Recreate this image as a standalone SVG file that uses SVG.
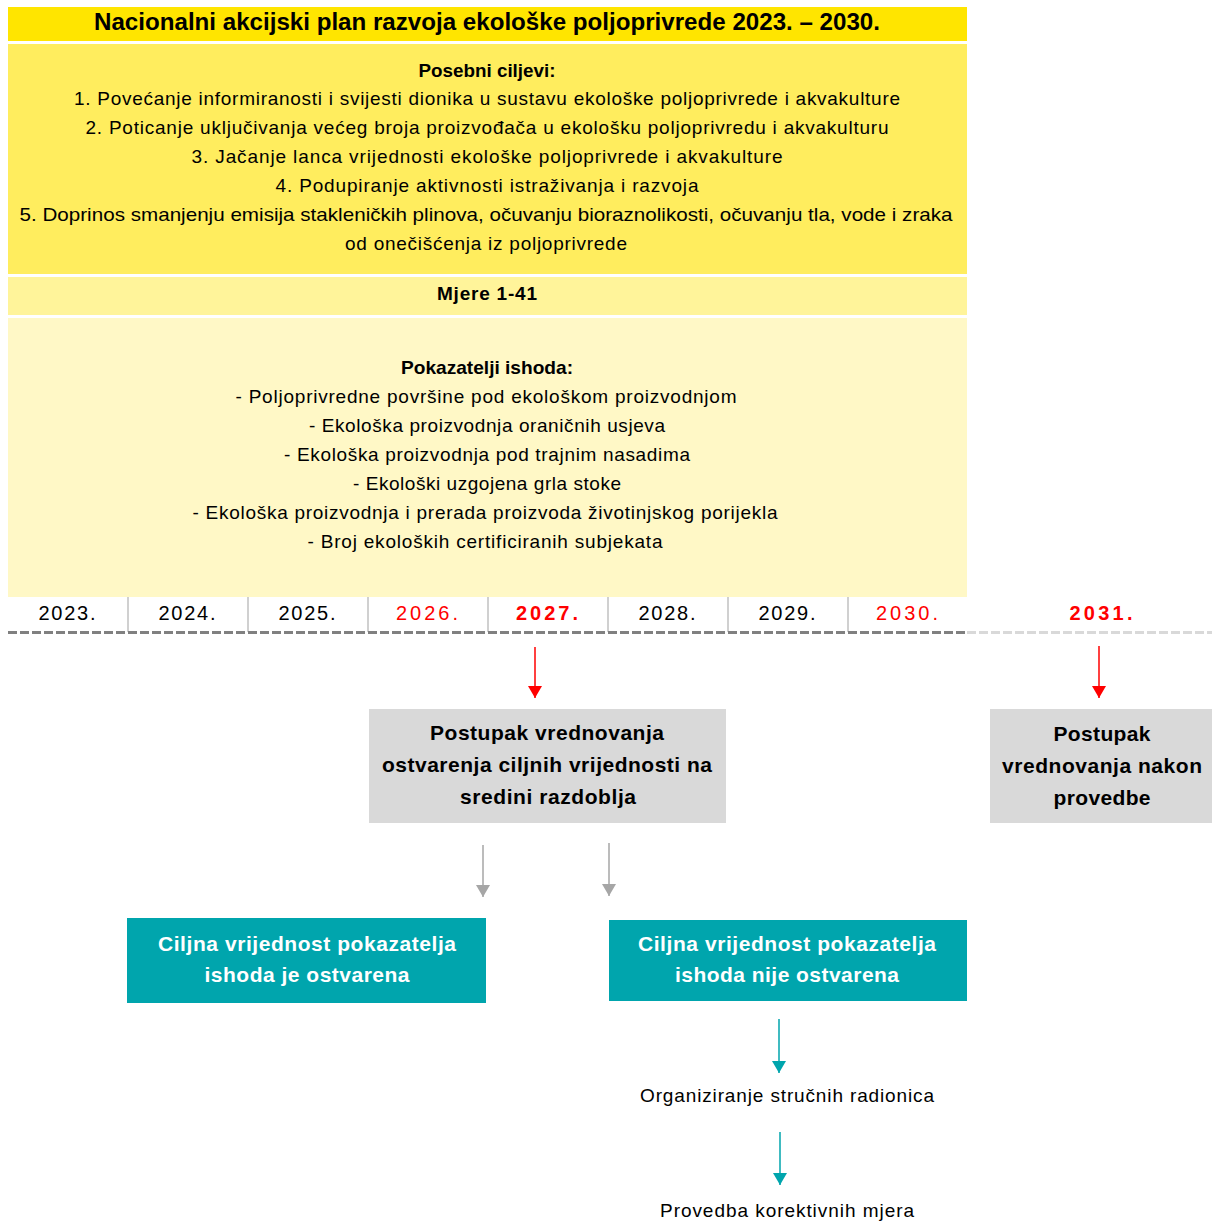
<svg xmlns="http://www.w3.org/2000/svg" width="1212" height="1221" viewBox="0 0 1212 1221">
<defs>
<style>
text{font-family:"Liberation Sans",Arial,sans-serif;text-anchor:middle;dominant-baseline:central;fill:#000}
.t{font-size:19px}
.b{font-weight:bold}
.yr{font-size:20px}
.red{fill:#FF0000}
.box{font-size:21px;font-weight:bold}
.w{fill:#FFFFFF}
</style>
<marker id="ar" markerWidth="14" markerHeight="12" refX="7" refY="12" markerUnits="userSpaceOnUse" viewBox="0 0 14 12"><path d="M0,0 L14,0 L7,12 Z" fill="#FF0000"/></marker>
<marker id="ag" markerWidth="14" markerHeight="12" refX="7" refY="12" markerUnits="userSpaceOnUse" viewBox="0 0 14 12"><path d="M0,0 L14,0 L7,12 Z" fill="#A6A6A6"/></marker>
<marker id="at" markerWidth="14" markerHeight="12" refX="7" refY="12" markerUnits="userSpaceOnUse" viewBox="0 0 14 12"><path d="M0,0 L14,0 L7,12 Z" fill="#00A5AD"/></marker>
</defs>
<rect width="1212" height="1221" fill="#FFFFFF"/>

<g id="title">
<rect x="8" y="7" width="959" height="34" fill="#FFE500"/>
<text x="487" y="22" class="b" font-size="23" textLength="786" lengthAdjust="spacingAndGlyphs">Nacionalni akcijski plan razvoja ekološke poljoprivrede 2023. – 2030.</text>
</g>

<g id="ciljevi">
<rect x="8" y="44" width="959" height="230" fill="#FFED5E"/>
<text x="487" y="70" class="t b" textLength="137" lengthAdjust="spacingAndGlyphs">Posebni ciljevi:</text>
<text x="487" y="98" class="t" textLength="826" lengthAdjust="spacing">1. Povećanje informiranosti i svijesti dionika u sustavu ekološke poljoprivrede i akvakulture</text>
<text x="487" y="127" class="t" textLength="803" lengthAdjust="spacing">2. Poticanje uključivanja većeg broja proizvođača u ekološku poljoprivredu i akvakulturu</text>
<text x="487" y="156" class="t" textLength="591" lengthAdjust="spacing">3. Jačanje lanca vrijednosti  ekološke poljoprivrede i akvakulture</text>
<text x="487" y="185" class="t" textLength="423" lengthAdjust="spacing">4. Podupiranje aktivnosti istraživanja i razvoja</text>
<text x="486" y="214" class="t" textLength="933" lengthAdjust="spacingAndGlyphs">5. Doprinos smanjenju emisija stakleničkih plinova, očuvanju bioraznolikosti, očuvanju tla, vode i zraka</text>
<text x="486" y="243" class="t" textLength="282" lengthAdjust="spacing">od onečišćenja iz poljoprivrede</text>
</g>

<g id="mjere">
<rect x="8" y="277" width="959" height="38" fill="#FFF49A"/>
<text x="487" y="293" class="t b" textLength="100" lengthAdjust="spacing">Mjere 1-41</text>
</g>

<g id="pokazatelji">
<rect x="8" y="318" width="959" height="279" fill="#FFF8C6"/>
<text x="487" y="367" class="t b" textLength="172" lengthAdjust="spacingAndGlyphs">Pokazatelji ishoda:</text>
<text x="486" y="396" class="t" textLength="501" lengthAdjust="spacing">- Poljoprivredne površine pod ekološkom proizvodnjom</text>
<text x="487" y="425" class="t" textLength="356" lengthAdjust="spacing">- Ekološka proizvodnja oraničnih usjeva</text>
<text x="487" y="454" class="t" textLength="406" lengthAdjust="spacing">- Ekološka proizvodnja pod trajnim nasadima</text>
<text x="487" y="483" class="t" textLength="268" lengthAdjust="spacing">- Ekološki uzgojena grla stoke</text>
<text x="485" y="512" class="t" textLength="585" lengthAdjust="spacing">- Ekološka proizvodnja i prerada proizvoda životinjskog porijekla</text>
<text x="485" y="541" class="t" textLength="355" lengthAdjust="spacing">- Broj ekoloških certificiranih subjekata</text>
</g>

<g id="timeline">
<g stroke="#D0D0D0" stroke-width="2">
<line x1="128" y1="597" x2="128" y2="632"/>
<line x1="248" y1="597" x2="248" y2="632"/>
<line x1="368" y1="597" x2="368" y2="632"/>
<line x1="488" y1="597" x2="488" y2="632"/>
<line x1="608" y1="597" x2="608" y2="632"/>
<line x1="728" y1="597" x2="728" y2="632"/>
<line x1="848" y1="597" x2="848" y2="632"/>
</g>
<text x="67" y="613" class="yr" textLength="57" lengthAdjust="spacing">2023.</text>
<text x="187" y="613" class="yr" textLength="57" lengthAdjust="spacing">2024.</text>
<text x="307" y="613" class="yr" textLength="57" lengthAdjust="spacing">2025.</text>
<text x="427" y="613" class="yr red" textLength="62" lengthAdjust="spacing">2026.</text>
<text x="547" y="613" class="yr red b" textLength="62" lengthAdjust="spacing">2027.</text>
<text x="667" y="613" class="yr" textLength="57" lengthAdjust="spacing">2028.</text>
<text x="787" y="613" class="yr" textLength="57" lengthAdjust="spacing">2029.</text>
<text x="907" y="613" class="yr red" textLength="62" lengthAdjust="spacing">2030.</text>
<text x="1101" y="613" class="yr red b" textLength="63" lengthAdjust="spacing">2031.</text>
<line x1="8" y1="632.5" x2="967" y2="632.5" stroke="#808080" stroke-width="3" stroke-dasharray="9,3"/>
<line x1="967" y1="632.5" x2="1212" y2="632.5" stroke="#D9D9D9" stroke-width="3" stroke-dasharray="9,3"/>
</g>

<g id="vrednovanje-sredina">
<rect x="369" y="709" width="357" height="114" fill="#D9D9D9"/>
<text x="547" y="732" class="box" textLength="234" lengthAdjust="spacing">Postupak vrednovanja</text>
<text x="547" y="764" class="box" textLength="330" lengthAdjust="spacing">ostvarenja ciljnih vrijednosti na</text>
<text x="548" y="796" class="box" textLength="176" lengthAdjust="spacing">sredini razdoblja</text>
</g>

<g id="vrednovanje-nakon">
<rect x="990" y="709" width="222" height="114" fill="#D9D9D9"/>
<text x="1102" y="733" class="box" textLength="97" lengthAdjust="spacing">Postupak</text>
<text x="1102" y="765" class="box" textLength="200" lengthAdjust="spacing">vrednovanja nakon</text>
<text x="1102" y="797" class="box" textLength="97" lengthAdjust="spacing">provedbe</text>
</g>

<g id="ostvarena">
<rect x="127" y="918" width="359" height="85" fill="#00A5AD"/>
<text x="307" y="943" class="box w" textLength="298" lengthAdjust="spacing">Ciljna vrijednost pokazatelja</text>
<text x="307" y="974" class="box w" textLength="205" lengthAdjust="spacing">ishoda je ostvarena</text>
</g>

<g id="nije-ostvarena">
<rect x="609" y="920" width="358" height="81" fill="#00A5AD"/>
<text x="787" y="943" class="box w" textLength="298" lengthAdjust="spacing">Ciljna vrijednost pokazatelja</text>
<text x="787" y="974" class="box w" textLength="224" lengthAdjust="spacing">ishoda nije ostvarena</text>
</g>

<g id="radionice">
<text x="787" y="1095" class="t" textLength="294" lengthAdjust="spacing">Organiziranje stručnih radionica</text>
</g>

<g id="korektivne">
<text x="787" y="1210" class="t" textLength="254" lengthAdjust="spacing">Provedba korektivnih mjera</text>
</g>

<g id="connectors" fill="none">
<line x1="535" y1="647" x2="535" y2="698" stroke="#FF0000" stroke-width="1.5" marker-end="url(#ar)"/>
<line x1="1099" y1="646" x2="1099" y2="698" stroke="#FF0000" stroke-width="1.5" marker-end="url(#ar)"/>
<line x1="483" y1="845" x2="483" y2="897" stroke="#A6A6A6" stroke-width="1.5" marker-end="url(#ag)"/>
<line x1="609" y1="843" x2="609" y2="896" stroke="#A6A6A6" stroke-width="1.5" marker-end="url(#ag)"/>
<line x1="779" y1="1019" x2="779" y2="1073" stroke="#00A5AD" stroke-width="1.5" marker-end="url(#at)"/>
<line x1="780" y1="1132" x2="780" y2="1185" stroke="#00A5AD" stroke-width="1.5" marker-end="url(#at)"/>
</g>
</svg>
